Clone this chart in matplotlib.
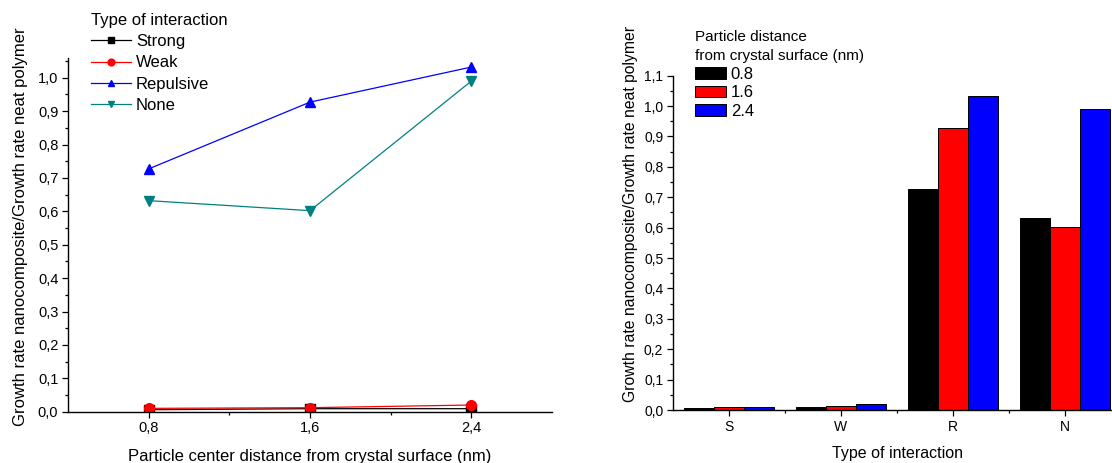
import numpy as np
import matplotlib
matplotlib.use("Agg")
import matplotlib.pyplot as plt
from matplotlib.ticker import FuncFormatter, MultipleLocator, FixedLocator

plt.rcParams['font.family'] = ['Liberation Sans', 'DejaVu Sans']

# data
distances = [0.8, 1.6, 2.4]
dist_labels = ['0.8', '1.6', '2.4']
interactions = ['Strong', 'Weak', 'Repulsive', 'None']
short_names = ['S', 'W', 'R', 'N']
strong = [0.006, 0.009, 0.009]
weak = [0.010, 0.012, 0.020]
repulsive = [0.727, 0.927, 1.032]
none_ = [0.632, 0.602, 0.990]

series = [strong, weak, repulsive, none_]
line_colors = ['black', 'red', 'blue', '#008080']
line_markers = ['s', 'o', '^', 'v']
bar_colors = ['black', 'red', 'blue']

W, H = 1112, 463
fig = plt.figure(figsize=(W / 100, H / 100), dpi=100)


def comma(v, pos):
    return f"{v:.1f}".replace('.', ',')


def style_axes(ax, labelsize):
    for s in ['top', 'right']:
        ax.spines[s].set_visible(False)
    for s in ['left', 'bottom']:
        ax.spines[s].set_linewidth(1.0)
    ax.tick_params(which='major', direction='out', length=4.5, width=0.9,
                   labelsize=labelsize, pad=2.5)
    ax.tick_params(which='minor', direction='out', length=2.5, width=0.9)
    ax.yaxis.set_major_formatter(FuncFormatter(comma))
    ax.yaxis.set_minor_locator(MultipleLocator(0.05))


# ------------------------------------------------------- left: lines
ax1 = fig.add_axes([68 / W, 1 - 411.7 / H, 484 / W, (411.7 - 57.7) / H])
for vals, name, c, m in zip(series, interactions, line_colors, line_markers):
    ax1.plot(distances, vals, color=c, marker=m, markersize=7, linewidth=0.9, label=name)
ax1.set_xlim(0.4, 2.8)
ax1.set_ylim(0, 1.06)
ax1.set_xticks(distances)
ax1.xaxis.set_major_formatter(FuncFormatter(comma))
ax1.xaxis.set_minor_locator(FixedLocator([1.2, 2.0]))
ax1.yaxis.set_major_locator(MultipleLocator(0.1))
style_axes(ax1, 10.5)
ax1.set_xlabel('Particle center distance from crystal surface (nm)', fontsize=12, labelpad=10)
ax1.set_ylabel('Growth rate nanocomposite/Growth rate neat polymer', fontsize=12)
ax1.yaxis.set_label_coords(-0.083, 0.523)
ax1.legend(title='Type of interaction', loc='upper left', bbox_to_anchor=(91 / W, 1 - 13 / H),
           bbox_transform=fig.transFigure, frameon=False, fontsize=12, title_fontsize=12,
           alignment='left', handlelength=2.4, handletextpad=0.3, labelspacing=0.37,
           borderpad=0, borderaxespad=0, markerscale=0.7)

# ------------------------------------------------------- right: bars
ax2 = fig.add_axes([673 / W, 1 - 410 / H, 448 / W, (410 - 75.6) / H])
x = np.arange(len(short_names))
width = 0.268
for i, (lab, c) in enumerate(zip(dist_labels, bar_colors)):
    vals = [s[i] for s in series]
    ax2.bar(x + (i - 1) * width, vals, width, color=c, edgecolor='black', linewidth=0.7, label=lab)
ax2.set_xlim(-0.5, 3.5)
ax2.set_ylim(0, 1.1)
ax2.set_xticks(x)
ax2.set_xticklabels(short_names)
ax2.xaxis.set_minor_locator(FixedLocator([0.5, 1.5, 2.5, 3.5]))
ax2.yaxis.set_major_locator(MultipleLocator(0.1))
style_axes(ax2, 10)
ax2.set_xlabel('Type of interaction', fontsize=11.5, labelpad=9)
ax2.set_ylabel('Growth rate nanocomposite/Growth rate neat polymer', fontsize=11.3)
ax2.yaxis.set_label_coords(-0.078, 0.586)
leg = ax2.legend(title='Particle distance\nfrom crystal surface (nm)', loc='upper left',
                 bbox_to_anchor=(695 / W, 1 - 30 / H), bbox_transform=fig.transFigure,
                 frameon=False, fontsize=12, title_fontsize=11, alignment='left',
                 handlelength=1.85, handleheight=0.72, handletextpad=0.3, labelspacing=0.22,
                 borderpad=0, borderaxespad=0)
leg.get_title().set_linespacing(1.45)

fig.savefig('out.png', dpi=100)
